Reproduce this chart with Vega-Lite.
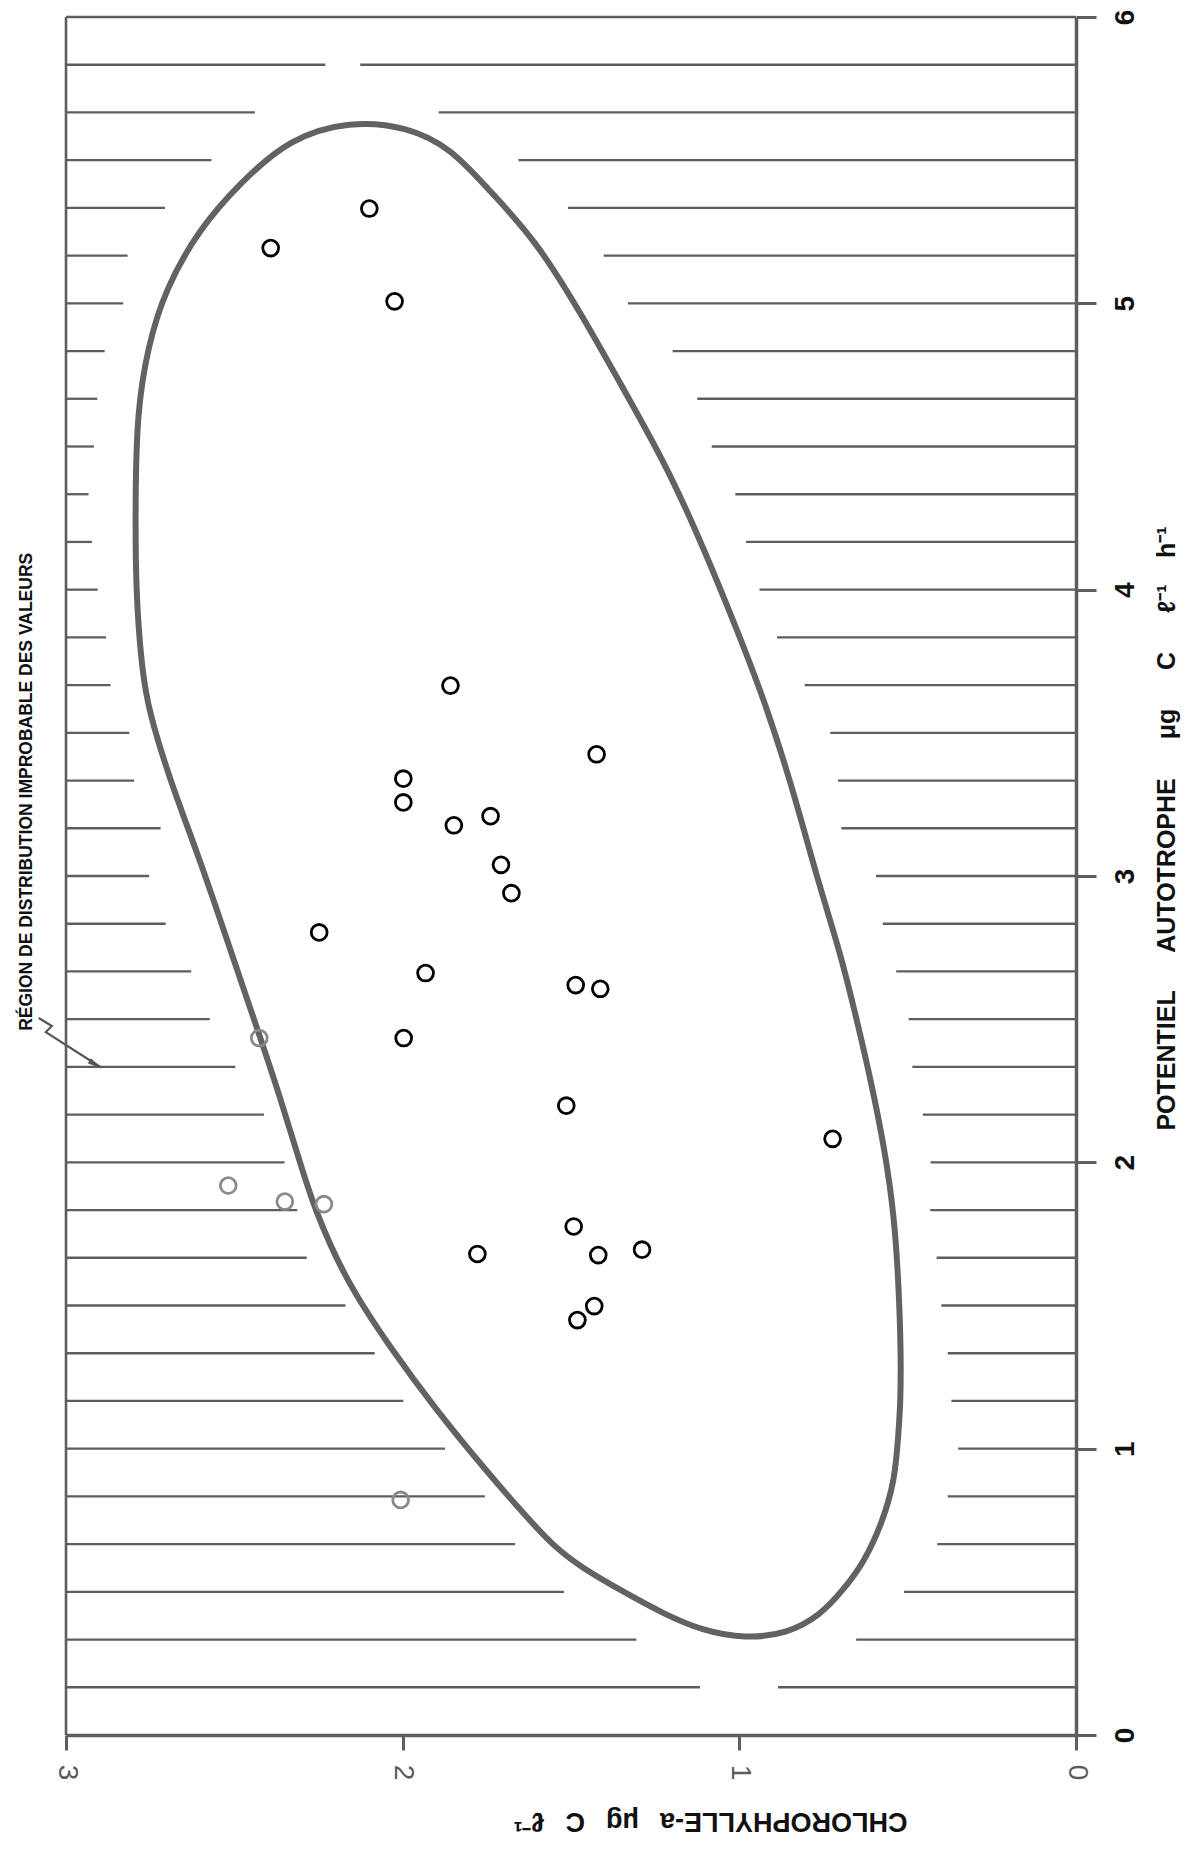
{
  "$schema": "https://vega.github.io/schema/vega-lite/v6.json",
  "width": 1010,
  "height": 1718,
  "autosize": {"type": "none"},
  "padding": {"left": 66, "top": 17, "right": 115, "bottom": 122},
  "background": "white",
  "config": {"view": {"stroke": null}, "axis": {"grid": false}},
  "datasets": {
    "stations": [
      {"chl": 2.099, "pot": 5.331, "zone": "dans l'enveloppe"},
      {"chl": 2.392, "pot": 5.193, "zone": "dans l'enveloppe"},
      {"chl": 2.024, "pot": 5.007, "zone": "dans l'enveloppe"},
      {"chl": 1.858, "pot": 3.665, "zone": "dans l'enveloppe"},
      {"chl": 1.424, "pot": 3.425, "zone": "dans l'enveloppe"},
      {"chl": 1.998, "pot": 3.340, "zone": "dans l'enveloppe"},
      {"chl": 1.998, "pot": 3.257, "zone": "dans l'enveloppe"},
      {"chl": 1.739, "pot": 3.209, "zone": "dans l'enveloppe"},
      {"chl": 1.848, "pot": 3.177, "zone": "dans l'enveloppe"},
      {"chl": 1.708, "pot": 3.039, "zone": "dans l'enveloppe"},
      {"chl": 1.677, "pot": 2.940, "zone": "dans l'enveloppe"},
      {"chl": 2.248, "pot": 2.803, "zone": "dans l'enveloppe"},
      {"chl": 1.932, "pot": 2.661, "zone": "dans l'enveloppe"},
      {"chl": 1.486, "pot": 2.619, "zone": "dans l'enveloppe"},
      {"chl": 1.413, "pot": 2.606, "zone": "dans l'enveloppe"},
      {"chl": 1.997, "pot": 2.434, "zone": "dans l'enveloppe"},
      {"chl": 2.426, "pot": 2.434, "zone": "hors enveloppe"},
      {"chl": 1.514, "pot": 2.198, "zone": "dans l'enveloppe"},
      {"chl": 0.723, "pot": 2.082, "zone": "dans l'enveloppe"},
      {"chl": 2.518, "pot": 1.919, "zone": "hors enveloppe"},
      {"chl": 2.350, "pot": 1.863, "zone": "hors enveloppe"},
      {"chl": 2.234, "pot": 1.854, "zone": "hors enveloppe"},
      {"chl": 1.492, "pot": 1.776, "zone": "dans l'enveloppe"},
      {"chl": 1.778, "pot": 1.680, "zone": "dans l'enveloppe"},
      {"chl": 1.419, "pot": 1.676, "zone": "dans l'enveloppe"},
      {"chl": 1.289, "pot": 1.695, "zone": "dans l'enveloppe"},
      {"chl": 1.431, "pot": 1.498, "zone": "dans l'enveloppe"},
      {"chl": 1.481, "pot": 1.449, "zone": "dans l'enveloppe"},
      {"chl": 2.006, "pot": 0.821, "zone": "hors enveloppe"}
    ],
    "enveloppe": [
      {"ordre": 1, "chl": 2.157, "pot": 5.637},
      {"ordre": 2, "chl": 1.988, "pot": 5.618},
      {"ordre": 3, "chl": 1.855, "pot": 5.540},
      {"ordre": 4, "chl": 1.752, "pot": 5.406},
      {"ordre": 5, "chl": 1.605, "pot": 5.223},
      {"ordre": 6, "chl": 1.459, "pot": 4.942},
      {"ordre": 7, "chl": 1.342, "pot": 4.696},
      {"ordre": 8, "chl": 1.225, "pot": 4.451},
      {"ordre": 9, "chl": 1.128, "pot": 4.205},
      {"ordre": 10, "chl": 1.041, "pot": 3.960},
      {"ordre": 11, "chl": 0.934, "pot": 3.644},
      {"ordre": 12, "chl": 0.847, "pot": 3.329},
      {"ordre": 13, "chl": 0.766, "pot": 2.979},
      {"ordre": 14, "chl": 0.703, "pot": 2.744},
      {"ordre": 15, "chl": 0.654, "pot": 2.513},
      {"ordre": 16, "chl": 0.608, "pot": 2.279},
      {"ordre": 17, "chl": 0.568, "pot": 2.044},
      {"ordre": 18, "chl": 0.540, "pot": 1.813},
      {"ordre": 19, "chl": 0.527, "pot": 1.579},
      {"ordre": 20, "chl": 0.520, "pot": 1.345},
      {"ordre": 21, "chl": 0.521, "pot": 1.160},
      {"ordre": 22, "chl": 0.528, "pot": 1.045},
      {"ordre": 23, "chl": 0.538, "pot": 0.891},
      {"ordre": 24, "chl": 0.575, "pot": 0.742},
      {"ordre": 25, "chl": 0.630, "pot": 0.602},
      {"ordre": 26, "chl": 0.690, "pot": 0.509},
      {"ordre": 27, "chl": 0.759, "pot": 0.418},
      {"ordre": 28, "chl": 0.860, "pot": 0.353},
      {"ordre": 29, "chl": 0.982, "pot": 0.337},
      {"ordre": 30, "chl": 1.107, "pot": 0.363},
      {"ordre": 31, "chl": 1.225, "pot": 0.423},
      {"ordre": 32, "chl": 1.352, "pot": 0.505},
      {"ordre": 33, "chl": 1.470, "pot": 0.586},
      {"ordre": 34, "chl": 1.550, "pot": 0.657},
      {"ordre": 35, "chl": 1.638, "pot": 0.769},
      {"ordre": 36, "chl": 1.756, "pot": 0.928},
      {"ordre": 37, "chl": 1.903, "pot": 1.139},
      {"ordre": 38, "chl": 2.035, "pot": 1.350},
      {"ordre": 39, "chl": 2.167, "pot": 1.582},
      {"ordre": 40, "chl": 2.263, "pot": 1.838},
      {"ordre": 41, "chl": 2.312, "pot": 2.027},
      {"ordre": 42, "chl": 2.364, "pot": 2.227},
      {"ordre": 43, "chl": 2.422, "pot": 2.433},
      {"ordre": 44, "chl": 2.506, "pot": 2.721},
      {"ordre": 45, "chl": 2.601, "pot": 3.054},
      {"ordre": 46, "chl": 2.688, "pot": 3.323},
      {"ordre": 47, "chl": 2.755, "pot": 3.578},
      {"ordre": 48, "chl": 2.775, "pot": 3.726},
      {"ordre": 49, "chl": 2.793, "pot": 3.992},
      {"ordre": 50, "chl": 2.794, "pot": 4.327},
      {"ordre": 51, "chl": 2.789, "pot": 4.617},
      {"ordre": 52, "chl": 2.757, "pot": 4.850},
      {"ordre": 53, "chl": 2.705, "pot": 5.049},
      {"ordre": 54, "chl": 2.606, "pot": 5.257},
      {"ordre": 55, "chl": 2.486, "pot": 5.417},
      {"ordre": 56, "chl": 2.336, "pot": 5.577}
    ],
    "hachures": [
      {"pot": 0.1667, "fin_gauche": 1.117, "debut_droite": 0.885},
      {"pot": 0.3333, "fin_gauche": 1.306, "debut_droite": 0.653},
      {"pot": 0.5, "fin_gauche": 1.521, "debut_droite": 0.511},
      {"pot": 0.6667, "fin_gauche": 1.666, "debut_droite": 0.412},
      {"pot": 0.8333, "fin_gauche": 1.756, "debut_droite": 0.381},
      {"pot": 1.0, "fin_gauche": 1.874, "debut_droite": 0.350},
      {"pot": 1.1667, "fin_gauche": 1.998, "debut_droite": 0.370},
      {"pot": 1.3333, "fin_gauche": 2.083, "debut_droite": 0.381},
      {"pot": 1.5, "fin_gauche": 2.170, "debut_droite": 0.400},
      {"pot": 1.6667, "fin_gauche": 2.285, "debut_droite": 0.414},
      {"pot": 1.8333, "fin_gauche": 2.313, "debut_droite": 0.433},
      {"pot": 2.0, "fin_gauche": 2.351, "debut_droite": 0.432},
      {"pot": 2.1667, "fin_gauche": 2.412, "debut_droite": 0.455},
      {"pot": 2.3333, "fin_gauche": 2.497, "debut_droite": 0.486},
      {"pot": 2.5, "fin_gauche": 2.573, "debut_droite": 0.497},
      {"pot": 2.6667, "fin_gauche": 2.628, "debut_droite": 0.534},
      {"pot": 2.8333, "fin_gauche": 2.704, "debut_droite": 0.574},
      {"pot": 3.0, "fin_gauche": 2.753, "debut_droite": 0.594},
      {"pot": 3.1667, "fin_gauche": 2.719, "debut_droite": 0.697},
      {"pot": 3.3333, "fin_gauche": 2.798, "debut_droite": 0.707},
      {"pot": 3.5, "fin_gauche": 2.812, "debut_droite": 0.730},
      {"pot": 3.6667, "fin_gauche": 2.868, "debut_droite": 0.806},
      {"pot": 3.8333, "fin_gauche": 2.881, "debut_droite": 0.888},
      {"pot": 4.0, "fin_gauche": 2.906, "debut_droite": 0.940},
      {"pot": 4.1667, "fin_gauche": 2.923, "debut_droite": 0.980},
      {"pot": 4.3333, "fin_gauche": 2.933, "debut_droite": 1.012},
      {"pot": 4.5, "fin_gauche": 2.917, "debut_droite": 1.082},
      {"pot": 4.6667, "fin_gauche": 2.907, "debut_droite": 1.125},
      {"pot": 4.8333, "fin_gauche": 2.885, "debut_droite": 1.198},
      {"pot": 5.0, "fin_gauche": 2.830, "debut_droite": 1.331},
      {"pot": 5.1667, "fin_gauche": 2.817, "debut_droite": 1.403},
      {"pot": 5.3333, "fin_gauche": 2.706, "debut_droite": 1.509},
      {"pot": 5.5, "fin_gauche": 2.568, "debut_droite": 1.656},
      {"pot": 5.6667, "fin_gauche": 2.439, "debut_droite": 1.893},
      {"pot": 5.8333, "fin_gauche": 2.230, "debut_droite": 2.126}
    ],
    "fleche": [
      {"ordre": 1, "chl": 3.081, "pot": 2.504},
      {"ordre": 2, "chl": 3.042, "pot": 2.476},
      {"ordre": 3, "chl": 3.060, "pot": 2.455},
      {"ordre": 4, "chl": 2.898, "pot": 2.333}
    ]
  },
  "layer": [
    {
      "data": {"name": "hachures"},
      "mark": {"type": "rule", "color": "#5e5e5e", "strokeWidth": 2.3},
      "encoding": {
        "x": {"field": "fin_gauche", "type": "quantitative", "scale": {"domain": [0, 3], "reverse": true, "nice": false, "zero": false}},
        "x2": {"datum": 3},
        "y": {"field": "pot", "type": "quantitative", "scale": {"domain": [0, 6], "nice": false, "zero": false}}
      }
    },
    {
      "data": {"name": "hachures"},
      "mark": {"type": "rule", "color": "#5e5e5e", "strokeWidth": 2.3},
      "encoding": {
        "x": {"field": "debut_droite", "type": "quantitative"},
        "x2": {"datum": 0},
        "y": {"field": "pot", "type": "quantitative"}
      }
    },
    {
      "data": {"values": [{}]},
      "mark": {"type": "rule", "color": "#5e5e5e", "strokeWidth": 2.6},
      "encoding": {"x": {"datum": 3, "type": "quantitative"}}
    },
    {
      "data": {"values": [{}]},
      "mark": {"type": "rule", "color": "#5e5e5e", "strokeWidth": 2.6},
      "encoding": {"y": {"datum": 6, "type": "quantitative"}}
    },
    {
      "data": {"name": "enveloppe"},
      "mark": {"type": "line", "interpolate": "basis-closed", "color": "#626262", "strokeWidth": 6},
      "encoding": {
        "x": {"field": "chl", "type": "quantitative"},
        "y": {"field": "pot", "type": "quantitative"},
        "order": {"field": "ordre", "type": "quantitative"}
      }
    },
    {
      "data": {"name": "stations"},
      "mark": {"type": "point", "shape": "circle", "filled": false, "size": 250, "strokeWidth": 2.8, "opacity": 1},
      "encoding": {
        "x": {
          "field": "chl",
          "type": "quantitative",
          "axis": {
            "orient": "bottom",
            "values": [0, 0.5, 1, 1.5, 2, 2.5, 3],
            "format": "d",
            "labelExpr": "datum.value % 1 === 0 ? datum.label : ''",
            "domainColor": "#5e5e5e",
            "domainWidth": 3.5,
            "tickColor": "#5e5e5e",
            "tickWidth": 3,
            "tickSize": 15,
            "labelAngle": 90,
            "labelAlign": "center",
            "labelBaseline": "middle",
            "labelPadding": 22,
            "labelFlush": false,
            "labelOverlap": false,
            "labelBound": false,
            "labelFont": "Liberation Sans",
            "labelFontSize": 28,
            "labelColor": "#5a5a5a",
            "title": "CHLOROPHYLLE-a \u2002μg \u2002C \u2002ℓ⁻¹",
            "titleAngle": 180,
            "titleX": 644,
            "titleY": 85,
            "titleAlign": "center",
            "titleBaseline": "middle",
            "titleFont": "Liberation Sans",
            "titleFontSize": 27,
            "titleFontWeight": "bold",
            "titleColor": "#111111"
          }
        },
        "y": {
          "field": "pot",
          "type": "quantitative",
          "axis": {
            "orient": "right",
            "values": [0, 0.5, 1, 1.5, 2, 2.5, 3, 3.5, 4, 4.5, 5, 5.5, 6],
            "format": "d",
            "labelExpr": "datum.value % 1 === 0 ? datum.label : ''",
            "domainColor": "#5e5e5e",
            "domainWidth": 3.5,
            "tickColor": "#5e5e5e",
            "tickWidth": 3,
            "tickSize": 20,
            "labelAngle": 270,
            "labelAlign": "center",
            "labelBaseline": "middle",
            "labelPadding": 29,
            "labelFlush": false,
            "labelOverlap": false,
            "labelBound": false,
            "labelFont": "Liberation Sans",
            "labelFontSize": 28,
            "labelFontWeight": "bold",
            "labelColor": "#111111",
            "title": "POTENTIEL \u2003 AUTOTROPHE \u2003 μg \u2003 C \u2003 ℓ⁻¹ \u2002 h⁻¹",
            "titleAngle": 270,
            "titleX": 90,
            "titleY": 811,
            "titleAlign": "center",
            "titleBaseline": "middle",
            "titleFont": "Liberation Sans",
            "titleFontSize": 25,
            "titleFontWeight": "bold",
            "titleColor": "#111111"
          }
        },
        "color": {
          "field": "zone",
          "type": "nominal",
          "scale": {"domain": ["dans l'enveloppe", "hors enveloppe"], "range": ["#000000", "#8a8a8a"]},
          "legend": null
        }
      }
    },
    {
      "data": {"name": "fleche"},
      "mark": {"type": "line", "color": "#555555", "strokeWidth": 2.2, "clip": false},
      "encoding": {
        "x": {"field": "chl", "type": "quantitative"},
        "y": {"field": "pot", "type": "quantitative"},
        "order": {"field": "ordre", "type": "quantitative"}
      }
    },
    {
      "data": {"values": [{}]},
      "mark": {"type": "point", "shape": "M0,-1L0.4,1L-0.4,1Z", "filled": true, "size": 220, "angle": 123, "color": "#555555", "opacity": 1},
      "encoding": {
        "x": {"datum": 2.912, "type": "quantitative"},
        "y": {"datum": 2.341, "type": "quantitative"}
      }
    },
    {
      "data": {"values": [{}]},
      "mark": {
        "type": "text",
        "text": "RÉGION DE DISTRIBUTION IMPROBABLE DES VALEURS",
        "angle": 270,
        "align": "center",
        "baseline": "middle",
        "font": "Liberation Sans Narrow, Liberation Sans",
        "fontSize": 17.5,
        "fontWeight": "bold",
        "color": "#111111"
      },
      "encoding": {
        "x": {"datum": 3.116, "type": "quantitative"},
        "y": {"datum": 3.294, "type": "quantitative"}
      }
    }
  ]
}
